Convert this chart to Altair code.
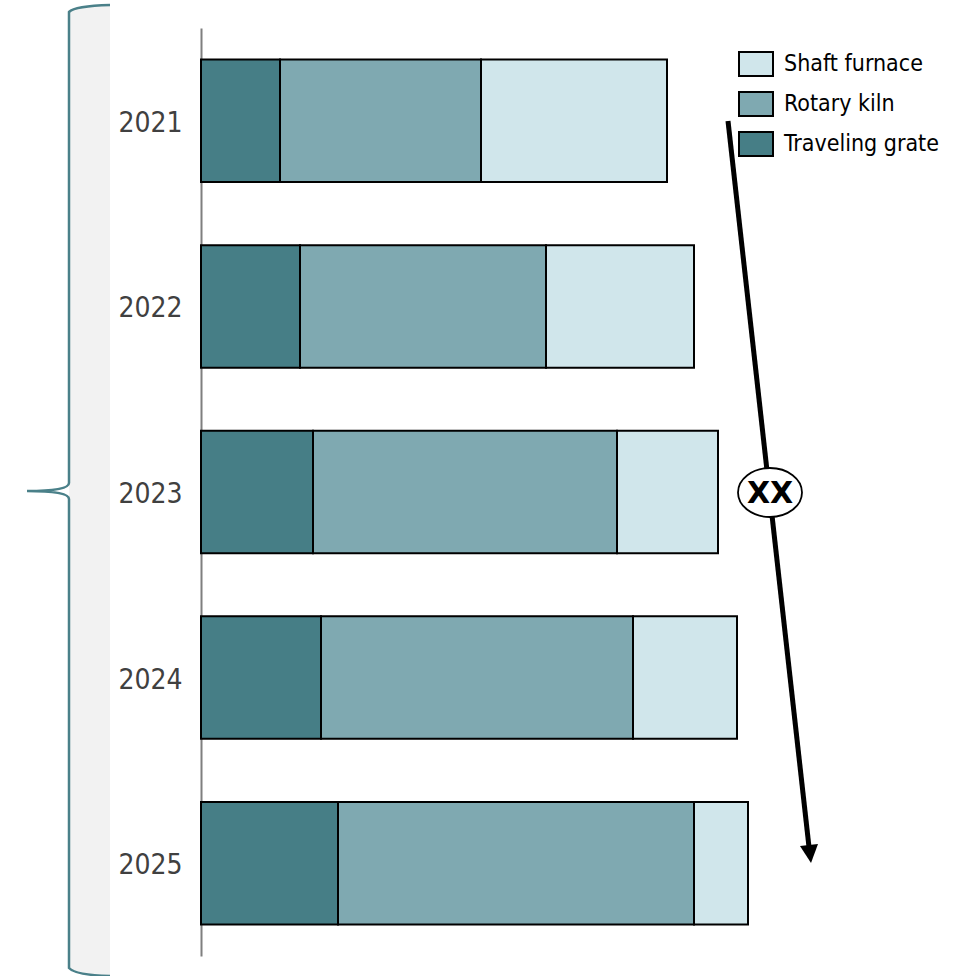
import altair as alt
import pandas as pd

# ---------------- data ----------------
years = ["2021", "2022", "2023", "2024", "2025"]
traveling_grate = [7.9, 9.9, 11.2, 12.0, 13.7]
rotary_kiln = [20.1, 24.6, 30.4, 31.2, 35.6]
shaft_furnace = [18.6, 14.8, 10.1, 10.4, 5.4]
series = ["Shaft furnace", "Rotary kiln", "Traveling grate"]
colors = ["#D0E6EB", "#7FA9B1", "#467E86"]
arrow_label = "XX"

rows = []
for i, yr in enumerate(years):
    rows.append({"year": yr, "process": "Traveling grate", "value": traveling_grate[i], "ord": 0})
    rows.append({"year": yr, "process": "Rotary kiln", "value": rotary_kiln[i], "ord": 1})
    rows.append({"year": yr, "process": "Shaft furnace", "value": shaft_furnace[i], "ord": 2})
df = pd.DataFrame(rows)

# ---------------- layout ----------------
W, H = 756, 928
PL, PT = 201, 28
FONT = "DejaVu Sans Condensed, DejaVu Sans, sans-serif"


def sym_path(segments, cx, cy, half):
    parts = []
    for cmd, pts in segments:
        coords = " ".join(f"{(x - cx) / half:.4f},{(y - cy) / half:.4f}" for x, y in pts)
        parts.append(cmd + coords)
    return " ".join(parts)


one = alt.Data(values=[{"k": 1}])

# gray panel behind the brace
BCX, BCY, BH = 69, 490.5, 500
panel_path = sym_path([
    ("M", [(69, 12)]), ("Q", [(75, 6), (110, 5)]), ("L", [(110, 976)]),
    ("Q", [(75, 975), (69, 968)]), ("Z", [])], BCX, BCY, BH)
brace_path = sym_path([
    ("M", [(110, 5)]), ("Q", [(75, 6), (69, 12)]), ("L", [(69, 483)]),
    ("Q", [(69, 491), (27, 491)]), ("Q", [(69, 491), (69, 499)]),
    ("L", [(69, 968)]), ("Q", [(75, 975), (110, 976)])], BCX, BCY, BH)

panel = alt.Chart(one).mark_point(
    shape=panel_path, size=(2 * BH) ** 2, filled=True, color="#F2F2F2", opacity=1, strokeWidth=0
).encode(x=alt.value(BCX - PL), y=alt.value(BCY - PT))

brace = alt.Chart(one).mark_point(
    shape=brace_path, size=(2 * BH) ** 2, filled=False, color="#4A8089", opacity=1, strokeWidth=2.5
).encode(x=alt.value(BCX - PL), y=alt.value(BCY - PT))

legend_shape = "M-1,-0.7 L1,-0.7 L1,0.7 L-1,0.7 Z"

bars = alt.Chart(df).mark_bar(stroke="black", strokeWidth=2).encode(
    y=alt.Y("year:N", sort=years, title=None,
            scale=alt.Scale(paddingInner=0.34, paddingOuter=0.17),
            axis=alt.Axis(domain=True, domainColor="#7F7F7F", domainWidth=2, ticks=False, grid=False,
                          labelFont=FONT, labelFontSize=28, labelColor="#404040", labelPadding=19,
                          labelOffset=3)),
    x=alt.X("value:Q", stack="zero", title=None,
            scale=alt.Scale(domain=[0, 75.6], nice=False, zero=True), axis=None),
    color=alt.Color("process:N", scale=alt.Scale(domain=series, range=colors),
                    legend=alt.Legend(title=None, orient="none", legendX=537, legendY=18,
                                      symbolType=legend_shape, symbolSize=1156,
                                      symbolStrokeColor="black", symbolStrokeWidth=2,
                                      symbolOpacity=1, labelFont=FONT, labelFontSize=23,
                                      labelColor="black", labelOffset=10, rowPadding=6,
                                      padding=0)),
    order=alt.Order("ord:Q", sort="ascending"),
)

# trend arrow
arrow = alt.Chart(one).mark_rule(color="black", strokeWidth=5).encode(
    x=alt.value(728 - PL), y=alt.value(121 - PT), x2=alt.value(809 - PL), y2=alt.value(847 - PT))

HCX, HCY, HH = 809, 852, 20
head_path = sym_path([("M", [(800.0, 846.0)]), ("L", [(818.0, 844.0)]), ("L", [(811, 863)]), ("Z", [])],
                     HCX, HCY, HH)
head = alt.Chart(one).mark_point(
    shape=head_path, size=(2 * HH) ** 2, filled=True, color="black", opacity=1, strokeWidth=0
).encode(x=alt.value(HCX - PL), y=alt.value(HCY - PT))

ellipse = alt.Chart(one).mark_point(
    shape="M-1,0 A1,0.766 0 1,1 1,0 A1,0.766 0 1,1 -1,0 Z", size=64 ** 2, filled=True,
    fill="white", stroke="black", strokeWidth=1.8, opacity=1
).encode(x=alt.value(770 - PL), y=alt.value(492.5 - PT))

label = alt.Chart(one).mark_text(
    text=arrow_label, font="DejaVu Sans, Verdana, sans-serif", fontWeight="bold", fontSize=30,
    color="black", align="center", baseline="middle"
).encode(x=alt.value(770 - PL), y=alt.value(494 - PT))

chart = alt.layer(panel, brace, bars, arrow, head, ellipse, label).properties(
    width=W, height=H,
    autosize=alt.AutoSizeParams(type="none"),
    padding={"left": PL, "top": PT, "right": 0, "bottom": 976 - PT - H},
).configure_view(stroke=None)

chart.save("out.html", embed_options={"renderer": "svg", "actions": False})
